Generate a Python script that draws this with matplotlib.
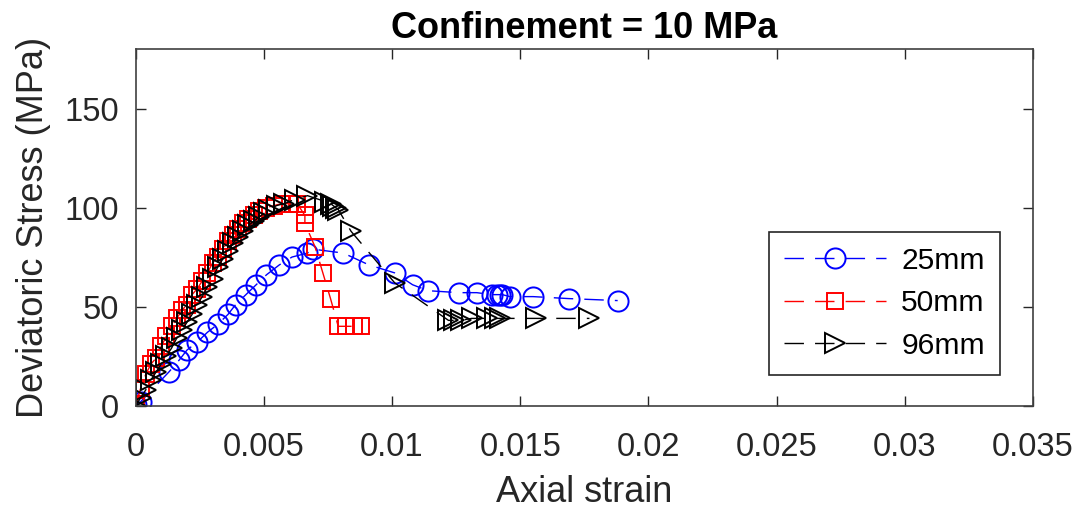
import matplotlib
matplotlib.use("Agg")
import matplotlib.pyplot as plt
from matplotlib.ticker import FormatStrFormatter

# 25 mm specimen
strain_25 = [0.0, 0.0002, 0.0013, 0.0017, 0.0020, 0.0024, 0.0028, 0.0032, 0.0036, 0.0039,
             0.0043, 0.0047, 0.0051, 0.0056, 0.0061, 0.0067, 0.0069, 0.0081, 0.0091, 0.0101,
             0.0108, 0.0114, 0.0126, 0.0133, 0.0139, 0.0141, 0.0142, 0.0143, 0.0146, 0.0155,
             0.0169, 0.0188]
stress_25 = [0.5, 2, 17, 23, 28, 32, 37, 41, 46, 51,
             56, 61, 66, 71, 75, 77, 79, 77, 71, 67,
             61, 58, 57, 57, 56, 56, 56, 56, 55, 55,
             54, 53]

# 50 mm specimen
strain_50 = [0.0, 0.0002, 0.0004, 0.0006, 0.0008, 0.0010, 0.0012, 0.0014, 0.0016, 0.0018,
             0.0020, 0.0022, 0.0024, 0.0026, 0.0028, 0.0030, 0.0032, 0.0034, 0.0036, 0.0038,
             0.0040, 0.0042, 0.0044, 0.0046, 0.0048, 0.0051, 0.0054, 0.0057, 0.0060, 0.0063,
             0.0066, 0.0066, 0.0070, 0.0073, 0.0076, 0.0079, 0.0082, 0.0085, 0.0088]
stress_50 = [0, 9, 16, 21, 24, 30, 35, 40, 44, 48,
             51, 56, 59, 63, 67, 72, 75, 79, 83, 86,
             89, 92, 94, 96, 98, 100, 101, 102, 102, 102,
             96, 92, 80, 67, 54, 40, 40, 40, 40]

# 96 mm specimen
strain_96 = [0.0, 0.0002, 0.0004, 0.0006, 0.0008, 0.0010, 0.0012, 0.0014, 0.0016, 0.0018,
             0.0020, 0.0022, 0.0024, 0.0026, 0.0028, 0.0030, 0.0032, 0.0034, 0.0036, 0.0038,
             0.0040, 0.0042, 0.0044, 0.0046, 0.0048, 0.0050, 0.0052, 0.0055, 0.0058, 0.0062,
             0.0067, 0.0074, 0.0076, 0.0077, 0.0078, 0.0079, 0.0084, 0.0101, 0.0122, 0.0124,
             0.0127, 0.0131, 0.0137, 0.0140, 0.0142, 0.0156, 0.0177]
stress_96 = [0, 4, 8, 13, 17, 21, 25, 29, 34, 38,
             42, 46, 51, 55, 60, 64, 70, 74, 78, 82,
             85, 88, 91, 93, 95, 97, 99, 101, 102, 104,
             106, 103, 102, 101, 100, 99, 88, 62, 43, 43,
             43, 44, 44, 44, 44, 44, 44]

labels = ["25mm", "50mm", "96mm"]
x_ticks = [0, 0.005, 0.01, 0.015, 0.02, 0.025, 0.03, 0.035]
y_ticks = [0, 50, 100, 150]

plt.rcParams['font.family'] = ['Liberation Sans', 'DejaVu Sans']
grey = '#262626'

fig = plt.figure(figsize=(10.82, 5.12), dpi=100)
ax = fig.add_axes([0.1254, 0.208, 0.8293, 0.696])

dash = (14, 8)
ax.plot(strain_25, stress_25, linestyle='--', dashes=dash, color='blue', lw=1.0,
        marker='o', ms=14.5, mfc='none', mew=1.4, label=labels[0])
ax.plot(strain_50, stress_50, linestyle='--', dashes=dash, color='red', lw=1.0,
        marker='s', ms=12, mfc='none', mew=1.4, label=labels[1])
ax.plot(strain_96, stress_96, linestyle='--', dashes=dash, color='black', lw=1.0,
        marker='>', ms=14.5, mfc='none', mew=1.4, label=labels[2])

ax.set_xlim(0, 0.035)
ax.set_ylim(0, 180)
ax.set_xticks(x_ticks)
ax.set_yticks(y_ticks)
ax.xaxis.set_major_formatter(FormatStrFormatter('%g'))

ax.tick_params(direction='in', length=7, width=1.0, color=grey, labelcolor=grey,
               labelsize=23.5, top=True, right=True)
ax.tick_params(axis='x', pad=19)
ax.tick_params(axis='y', pad=12)
for s in ax.spines.values():
    s.set_color('#404040')
    s.set_linewidth(1.2)

ax.set_xlabel('Axial strain', fontsize=26, color=grey, labelpad=9)
ax.set_ylabel('Deviatoric Stress (MPa)', fontsize=26, color=grey, labelpad=10)
ax.set_title('Confinement = 10 MPa', fontsize=26, fontweight='bold', color='black', pad=8)

leg = ax.legend(loc='upper left', bbox_to_anchor=(0.706, 0.487), borderaxespad=0,
                fontsize=21.6, handlelength=3.4, handletextpad=0.5, labelspacing=0.48,
                borderpad=0.5, fancybox=False, framealpha=1, edgecolor=grey)
leg.get_frame().set_linewidth(1.2)
for t in leg.get_texts():
    t.set_color('black')

fig.savefig('out.png', dpi=100)
